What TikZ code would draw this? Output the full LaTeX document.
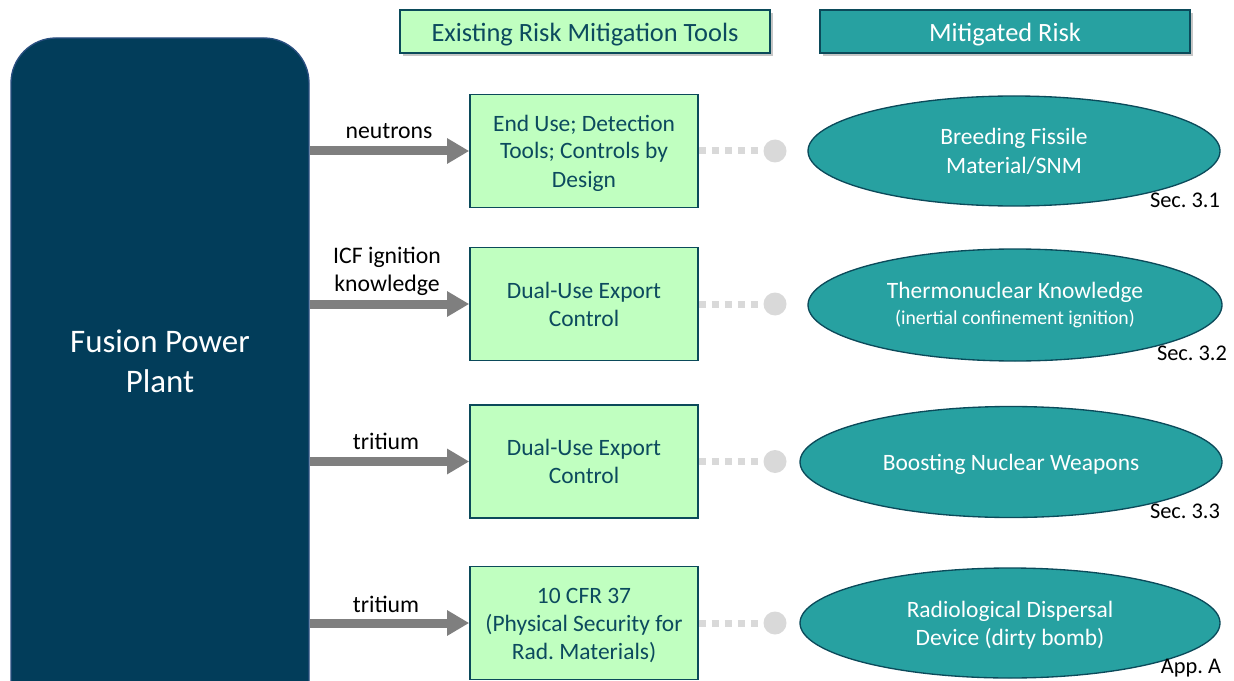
\documentclass[tikz,border=0pt]{standalone}
\usepackage{fontspec}
\setmainfont{Carlito}
\frenchspacing
\usetikzlibrary{arrows.meta,shapes.geometric,shadows}
\definecolor{navy}{HTML}{023D5A}
\definecolor{navyedge}{HTML}{2A4F80}
\definecolor{lgreen}{HTML}{C0FFC0}
\definecolor{tealtxt}{HTML}{0C4A5E}
\definecolor{tealfill}{HTML}{27A1A1}
\definecolor{tealedge}{HTML}{0B4A5A}
\definecolor{arrgray}{HTML}{7F7F7F}
\definecolor{dotgray}{HTML}{D9D9D9}
\def\px{0.75pt}
\tikzset{
  toolbox/.style={draw=tealedge, line width=1.2pt, fill=lgreen, text=tealtxt, align=center,
    minimum width=228*\px, minimum height=113*\px, inner sep=0pt,
    font=\fontsize{17.6}{21}\selectfont},
  riskell/.style={ellipse, draw=tealedge, line width=1pt, fill=tealfill, text=white, align=center,
    inner sep=0pt, font=\fontsize{17.6}{21}\selectfont},
  twolines/.style={text height=35pt, text depth=2pt},
  threelines/.style={text height=56pt, text depth=2pt},
  header/.style={minimum width=370*\px, minimum height=43*\px, inner sep=0pt,
    font=\fontsize{19.8}{22}\selectfont, text height=16.5pt, text depth=1.4pt,
    drop shadow={shadow xshift=2.5pt, shadow yshift=-2.5pt, fill=black!50, opacity=0.45}},
  lbl/.style={align=center, font=\fontsize{17.8}{21}\selectfont},
  seclbl/.style={font=\fontsize{16.8}{19}\selectfont},
  flowarrow/.style={draw=arrgray, line width=9*\px, -{Triangle[width=24*\px, length=22*\px]}, shorten >=0pt},
  dotline/.style={draw=dotgray, line width=7*\px, dash pattern=on 7*\px off 6*\px},
  enddot/.style={circle, fill=dotgray, minimum size=23*\px, inner sep=0pt},
}
\begin{document}
\begin{tikzpicture}[x=0.75pt, y=-0.75pt]
\useasboundingbox (0,0) rectangle (1234,681);
\clip (0,0) rectangle (1234,681);

% plant
\node[draw=navyedge, line width=1pt, fill=navy, rounded corners=45*\px, minimum width=298*\px, minimum height=700*\px,
  inner sep=0pt] (fpp) at (160,388) {};
\node[text=white, align=center, font=\fontsize{24.7}{30}\selectfont] (fpptxt) at (160,361) {Fusion Power\\Plant};

% headers
\node[header, draw=tealedge, line width=0.8pt, fill=lgreen, text=tealtxt] (h1) at (585,31.5) {Existing Risk Mitigation Tools};
\node[header, draw=tealedge, line width=0.8pt, fill=tealfill, text=white] (h2) at (1005,31.5) {Mitigated Risk};

% tool boxes
\node[toolbox, threelines] (b1) at (584,151) {End Use; Detection\\Tools; Controls by\\Design};
\node[toolbox, twolines] (b2) at (584,304) {Dual-Use Export\\Control};
\node[toolbox, twolines] (b3) at (584,461.5) {Dual-Use Export\\Control};
\node[toolbox, threelines] (b4) at (584,623) {10 CFR 37\\(Physical Security for\\Rad. Materials)};

% arrows
\draw[flowarrow] (b1.west -| fpp.east) -- (b1.west);
\draw[flowarrow] (b2.west -| fpp.east) -- (b2.west);
\draw[flowarrow] (b3.west -| fpp.east) -- (b3.west);
\draw[flowarrow] (b4.west -| fpp.east) -- (b4.west);

% arrow labels
\node[lbl] (l1) at (389,131) {neutrons};
\node[lbl] (l2) at (387,271) {ICF ignition\\knowledge};
\node[lbl] (l3) at (386,441) {tritium};
\node[lbl] (l4) at (386,604) {tritium};

% dotted connectors
\node[enddot] (d1) at (775,151) {};
\node[enddot] (d2) at (775,304) {};
\node[enddot] (d3) at (775,461.5) {};
\node[enddot] (d4) at (775,623) {};
\draw[dotline] (b1.east) -- (d1.center);
\draw[dotline] (b2.east) -- (d2.center);
\draw[dotline] (b3.east) -- (d3.center);
\draw[dotline] (b4.east) -- (d4.center);

% risk ellipses
\node[riskell, twolines, minimum width=412*\px, minimum height=110*\px] (e1) at (1014,151) {Breeding Fissile\\Material/SNM};
\node[riskell, minimum width=414*\px, minimum height=112*\px] (e2) at (1015,305)
  {Thermonuclear Knowledge\\[-1pt]{\fontsize{14.8}{17}\selectfont (inertial confinement ignition)}};
\node[riskell, text height=14pt, text depth=2pt, minimum width=422*\px, minimum height=111*\px] (e3) at (1011,462) {Boosting Nuclear Weapons};
\node[riskell, twolines, minimum width=420*\px, minimum height=110*\px] (e4) at (1010,623) {Radiological Dispersal\\Device (dirty bomb)};

% section labels
\node[seclbl] (s1) at (1185,200) {Sec. 3.1};
\node[seclbl] (s2) at (1192,353) {Sec. 3.2};
\node[seclbl] (s3) at (1185,511) {Sec. 3.3};
\node[seclbl] (s4) at (1191,668) {App. A};
\end{tikzpicture}
\end{document}
